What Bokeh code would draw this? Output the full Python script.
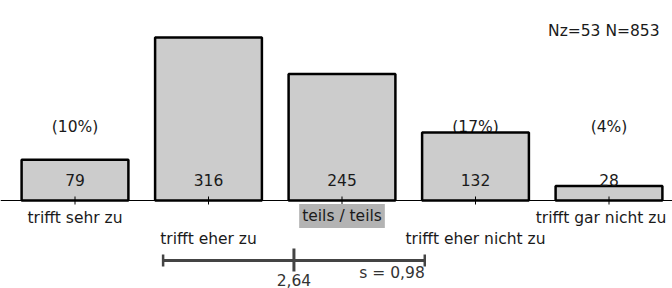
from bokeh.plotting import figure
from bokeh.models import Range1d, Span
from bokeh.embed import file_html
from bokeh.resources import INLINE
from bokeh.core.properties import value

# ---- data ----
categories = ["trifft sehr zu", "trifft eher zu", "teils / teils",
              "trifft eher nicht zu", "trifft gar nicht zu"]
counts = [79, 316, 245, 132, 28]
percents = ["(10%)", "(40%)", "(31%)", "(17%)", "(4%)"]
mean = 2.64
sd = 0.98
mean_label = "2,64"
sd_label = "s = 0,98"
n_missing = 53
n_total = 853
highlight_index = 2

# ---- layout ----
W, H = 672, 288
unit_px = 133.5
x0 = 1 - 74.5 / unit_px
x1 = x0 + W / unit_px
cpp = 316 / 163.0          # counts per pixel
y_start = -88 * cpp
y_end = 200 * cpp
FONT = value("DejaVu Sans")
FS = "15.5px"
TXT = "#1a1a1a"

xs = list(range(1, len(categories) + 1))

p = figure(width=W, height=H, output_backend="svg", toolbar_location=None,
           x_range=Range1d(x0, x1), y_range=Range1d(y_start, y_end),
           min_border=0, outline_line_color=None)
p.axis.visible = False
p.grid.visible = False
p.background_fill_color = "white"

# baseline
p.add_layout(Span(location=0, dimension="width", line_color="black", line_width=1))

# percent labels (drawn beneath bars)
p.text(x=xs, y=[74 * cpp] * len(xs), text=percents,
       text_font=FONT, text_font_size=FS, text_align="center",
       text_baseline="middle", text_color=TXT)

# bars
p.vbar(x=xs, top=counts, bottom=0, width=0.8, fill_color="#cccccc",
       line_color="black", line_width=2.5)

# ticks
p.segment(x0=xs, y0=[-4 * cpp] * len(xs), x1=xs, y1=[4 * cpp] * len(xs),
          line_color="black", line_width=1)

# count labels
p.text(x=xs, y=[21 * cpp] * len(xs), text=[str(c) for c in counts],
       text_font=FONT, text_font_size=FS, text_align="center",
       text_baseline="middle", text_color=TXT)

# category labels (alternating rows)
lab_y = [(-17 if i % 2 == 0 else -38) * cpp for i in range(len(categories))]
lab_dx = [0, 0, 0, 0, -8]
norm_idx = [i for i in range(len(categories)) if i != highlight_index]
p.text(x=[xs[i] for i in norm_idx], y=[lab_y[i] for i in norm_idx],
       text=[categories[i] for i in norm_idx],
       x_offset=[lab_dx[i] for i in norm_idx],
       text_font=FONT, text_font_size=FS, text_align="center",
       text_baseline="middle", text_color=TXT)
p.text(x=[xs[highlight_index]], y=[lab_y[highlight_index] + 1.5 * cpp],
       text=[categories[highlight_index]],
       text_font=FONT, text_font_size=FS, text_align="center",
       text_baseline="middle", text_color=TXT,
       background_fill_color="#b3b3b3", padding=3)

# mean / sd bar
ly = -60 * cpp
lo, hi = mean - sd, mean + sd
p.segment(x0=[lo], y0=[ly], x1=[hi], y1=[ly], line_color="#444444", line_width=3)
p.segment(x0=[lo, hi], y0=[ly - 6 * cpp] * 2, x1=[lo, hi], y1=[ly + 6 * cpp] * 2,
          line_color="#444444", line_width=2.5)
p.segment(x0=[mean], y0=[ly - 11 * cpp], x1=[mean], y1=[ly + 12 * cpp],
          line_color="#444444", line_width=3)
p.text(x=[mean], y=[-79 * cpp], text=[mean_label], text_font=FONT,
       text_font_size=FS, text_align="center", text_baseline="middle",
       text_color="#333333")
p.text(x=[hi], y=[-72 * cpp], text=[sd_label], text_font=FONT,
       text_font_size=FS, text_align="right", text_baseline="middle",
       text_color="#333333")

# N info
p.text(x=[x1], y=[170 * cpp], text=[f"Nz={n_missing}  N={n_total}"],
       text_font=FONT, text_font_size=FS, text_align="right",
       text_baseline="middle", text_color=TXT, x_offset=-8)

open("out.html", "w").write(file_html(p, INLINE))
